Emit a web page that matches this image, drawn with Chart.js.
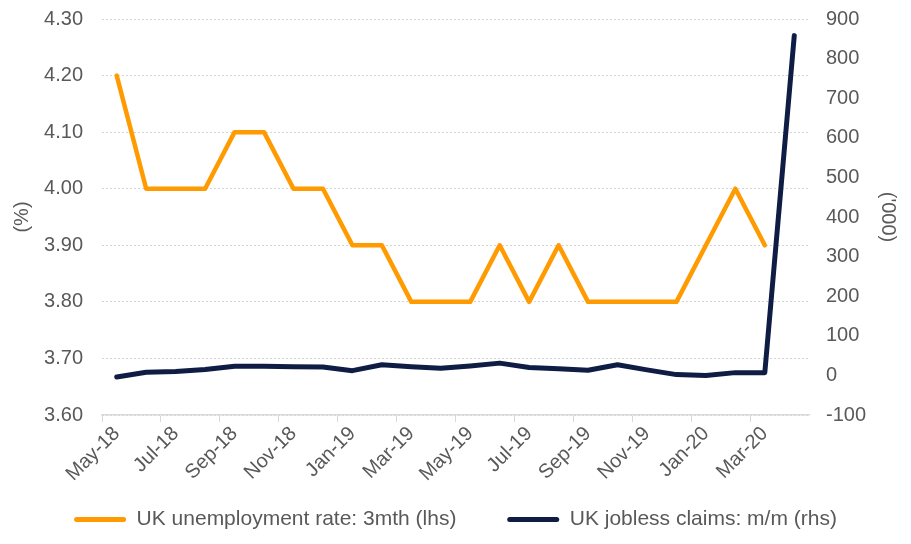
<!DOCTYPE html>
<html>
<head>
<meta charset="utf-8">
<script src="https://cdn.jsdelivr.net/npm/chart.js@4"></script>
<style>
  html, body { margin: 0; padding: 0; background: #fff; }
  #wrap { width: 911px; height: 544px; }
</style>
</head>
<body>
<div id="wrap"><canvas id="chart"></canvas></div>
<script>
// Data
const months = [
  "May-18", "Jun-18", "Jul-18", "Aug-18", "Sep-18", "Oct-18", "Nov-18", "Dec-18",
  "Jan-19", "Feb-19", "Mar-19", "Apr-19", "May-19", "Jun-19", "Jul-19", "Aug-19",
  "Sep-19", "Oct-19", "Nov-19", "Dec-19", "Jan-20", "Feb-20", "Mar-20", "Apr-20",
];
const unemploymentRate = [
  4.2, 4.0, 4.0, 4.0, 4.1, 4.1, 4.0, 4.0,
  3.9, 3.9, 3.8, 3.8, 3.8, 3.9, 3.8, 3.9,
  3.8, 3.8, 3.8, 3.8, 3.9, 4.0, 3.9, null,
];
const joblessClaims = [
  -4, 8, 10, 15, 23, 23, 22, 21,
  12, 27, 22, 18, 24, 31, 20, 17,
  13, 27, 14, 2, 0, 7, 7, 858,
];
const seriesNames = ["UK unemployment rate: 3mth (lhs)", "UK jobless claims: m/m (rhs)"];

const fontFamily = "'Liberation Sans', Arial, sans-serif";
const textColor = "#595959";
const gridColor = "#d9d9d9";

// fixed side widths, no extra top/bottom room from the y axes
const fitSide = (scale) => {
  scale.width = 102;
  scale.paddingTop = 0;
  scale.paddingBottom = 0;
};

const ctx = document.getElementById("chart").getContext("2d");

new Chart(ctx, {
  type: "line",
  data: {
    labels: months,
    datasets: [
      {
        label: seriesNames[0],
        data: unemploymentRate,
        yAxisID: "y",
        borderColor: "#ff9a00",
        backgroundColor: "#ff9a00",
        borderWidth: 4.5,
        pointRadius: 0,
        tension: 0,
        borderJoinStyle: "round",
        borderCapStyle: "round",
      },
      {
        label: seriesNames[1],
        data: joblessClaims,
        yAxisID: "y2",
        borderColor: "#0f1d45",
        backgroundColor: "#0f1d45",
        borderWidth: 5,
        pointRadius: 0,
        tension: 0,
        borderJoinStyle: "round",
        borderCapStyle: "round",
      },
    ],
  },
  options: {
    responsive: true,
    maintainAspectRatio: false,
    animation: false,
    layout: { padding: { top: 19, bottom: 4 } },
    plugins: {
      tooltip: { enabled: false },
      legend: {
        position: "bottom",
        labels: {
          color: textColor,
          font: { family: fontFamily, size: 21 },
          boxWidth: 52,
          boxHeight: 5,
          padding: 10,
          useBorderRadius: true,
          borderRadius: 2.5,
          generateLabels: (chart) =>
            Chart.defaults.plugins.legend.labels.generateLabels(chart).map((item, i) => ({
              ...item,
              text: i === 0 ? item.text + "       " : item.text,
              fillStyle: item.strokeStyle,
              lineWidth: 0,
            })),
        },
      },
    },
    scales: {
      x: {
        offset: true,
        grid: {
          offset: true,
          drawOnChartArea: false,
          drawTicks: true,
          tickLength: 7,
          color: (c) => (c.index % 2 === 0 ? gridColor : "rgba(0,0,0,0)"),
        },
        border: { display: true, color: gridColor, width: 1.5 },
        ticks: {
          autoSkip: false,
          maxRotation: 45,
          minRotation: 45,
          padding: 0,
          color: textColor,
          font: { family: fontFamily, size: 20 },
          callback: function (value, index) {
            return index % 2 === 0 ? this.getLabelForValue(value) : "";
          },
        },
        afterFit: (scale) => { scale.height = 84; },
      },
      y: {
        position: "left",
        min: 3.6,
        max: 4.3,
        ticks: {
          stepSize: 0.1,
          padding: 19,
          color: textColor,
          font: { family: fontFamily, size: 20 },
          callback: (v) => Number(v).toFixed(2),
        },
        grid: {
          drawTicks: false,
          color: "#d4d4d4",
          lineWidth: 1,
        },
        border: { display: false, dash: [2, 2] },
        title: {
          display: true,
          text: "(%)",
          color: textColor,
          font: { family: fontFamily, size: 20 },
          padding: { top: 10, bottom: 0 },
        },
        afterFit: fitSide,
      },
      y2: {
        position: "right",
        min: -100,
        max: 900,
        ticks: {
          stepSize: 100,
          padding: 17,
          color: textColor,
          font: { family: fontFamily, size: 20 },
        },
        grid: { drawOnChartArea: false, drawTicks: false },
        border: { display: false },
        title: {
          display: true,
          text: "('000)",
          color: textColor,
          font: { family: fontFamily, size: 20 },
          padding: { top: 11, bottom: 0 },
        },
        afterFit: fitSide,
      },
    },
  },
});
</script>
</body>
</html>
